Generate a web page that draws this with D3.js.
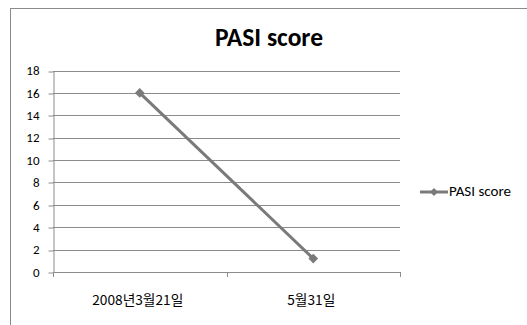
<!DOCTYPE html>
<html>
<head>
<meta charset="utf-8">
<script src="https://cdn.jsdelivr.net/npm/d3@7"></script>
<style>
  html, body { margin: 0; padding: 0; background: #fff; }
  svg { display: block; }
</style>
</head>
<body>
<svg id="chart" width="527" height="325"></svg>
<script>
// Chart data
const categories = ["2008년3월21일", "5월31일"];
const seriesName = "PASI score";
const pasiValues = [16, 1.2];
const yTicks = [0, 2, 4, 6, 8, 10, 12, 14, 16, 18];

const svg = d3.select("#chart");
const W = 527, H = 325;
const plot = { left: 53, right: 400, top: 70.5, bottom: 272 };
const lineColor = "#7a7a7a";
const gridColor = "#8c8c8c";
const latin = "Calibri, Carlito, Lato, 'Open Sans', sans-serif";
const korean = "'Malgun Gothic', 'Noto Sans CJK KR', sans-serif";

// Scale a text element's font so it spans the given width
function fitWidth(sel, base, width) {
  const w = sel.node().getComputedTextLength();
  sel.attr("font-size", base * width / w);
}

// Outer chart frame (runs off the right and bottom edges)
svg.append("rect")
  .attr("x", 10.5).attr("y", 8.5)
  .attr("width", W + 10).attr("height", H + 10)
  .attr("fill", "#fff").attr("stroke", "#8a8a8a").attr("stroke-width", 1);

// Title
const title = svg.append("text")
  .attr("x", 269).attr("y", 46)
  .attr("text-anchor", "middle")
  .attr("font-family", latin)
  .attr("font-weight", "bold")
  .attr("font-size", 22)
  .attr("fill", "#000")
  .text(seriesName);
fitWidth(title, 22, 108);

const x = d3.scaleBand().domain(categories).range([plot.left, plot.right]);
const y = d3.scaleLinear().domain([0, 18]).range([plot.bottom, plot.top]);

// Horizontal gridlines
svg.append("g")
  .selectAll("line")
  .data(yTicks.filter(d => d > 0))
  .join("line")
  .attr("x1", plot.left).attr("x2", plot.right)
  .attr("y1", d => Math.round(y(d)) + 0.5).attr("y2", d => Math.round(y(d)) + 0.5)
  .attr("stroke", gridColor).attr("stroke-width", 1);

// Y axis
const yAxis = svg.append("g")
  .attr("transform", `translate(${plot.left + 0.5},0)`)
  .call(d3.axisLeft(y).tickValues(yTicks).tickSize(5).tickPadding(9).tickSizeOuter(0));
yAxis.select(".domain").attr("stroke", gridColor);
yAxis.selectAll(".tick line").attr("stroke", gridColor)
  .attr("transform", function(d) { return `translate(0,${Math.round(y(d)) + 0.5 - y(d)})`; });
yAxis.selectAll(".tick text")
  .attr("font-family", latin).attr("font-size", 13).attr("fill", "#000");

// X axis with ticks between categories
const xAxisG = svg.append("g");
xAxisG.append("line")
  .attr("x1", plot.left).attr("x2", plot.right)
  .attr("y1", plot.bottom + 0.5).attr("y2", plot.bottom + 0.5)
  .attr("stroke", gridColor);
const boundaries = [plot.left, ...categories.map(c => x(c) + x.bandwidth())];
xAxisG.selectAll("line.tk")
  .data(boundaries)
  .join("line").attr("class", "tk")
  .attr("x1", d => Math.round(d) + 0.5).attr("x2", d => Math.round(d) + 0.5)
  .attr("y1", plot.bottom).attr("y2", plot.bottom + 5)
  .attr("stroke", gridColor);
const labelWidths = [91, 48];
xAxisG.selectAll("text")
  .data(categories)
  .join("text")
  .attr("x", d => x(d) + x.bandwidth() / 2 - 2)
  .attr("y", 305)
  .attr("text-anchor", "middle")
  .attr("font-family", korean)
  .attr("font-size", 12)
  .attr("fill", "#000")
  .text(d => d)
  .each(function(d, i) { fitWidth(d3.select(this), 12, labelWidths[i]); });

// Series line
const pts = categories.map((c, i) => ({ c, v: pasiValues[i] }));
svg.append("path")
  .datum(pts)
  .attr("fill", "none")
  .attr("stroke", lineColor)
  .attr("stroke-width", 3)
  .attr("d", d3.line().x(d => x(d.c) + x.bandwidth() / 2).y(d => y(d.v)));

const diamond = d3.symbol().type(d3.symbolDiamond2).size(60);
svg.append("g")
  .selectAll("path")
  .data(pts)
  .join("path")
  .attr("transform", d => `translate(${x(d.c) + x.bandwidth() / 2},${y(d.v)})`)
  .attr("d", diamond)
  .attr("fill", lineColor);

// Legend
const lg = svg.append("g").attr("transform", "translate(420,192)");
lg.append("line").attr("x1", 0).attr("x2", 28).attr("y1", 0).attr("y2", 0)
  .attr("stroke", lineColor).attr("stroke-width", 3);
lg.append("path").attr("transform", "translate(14,0)")
  .attr("d", d3.symbol().type(d3.symbolDiamond2).size(40))
  .attr("fill", lineColor);
const legText = lg.append("text").attr("x", 29).attr("y", 4)
  .attr("font-family", latin).attr("font-size", 11)
  .attr("fill", "#000")
  .text(seriesName);
fitWidth(legText, 11, 62);
</script>
</body>
</html>
